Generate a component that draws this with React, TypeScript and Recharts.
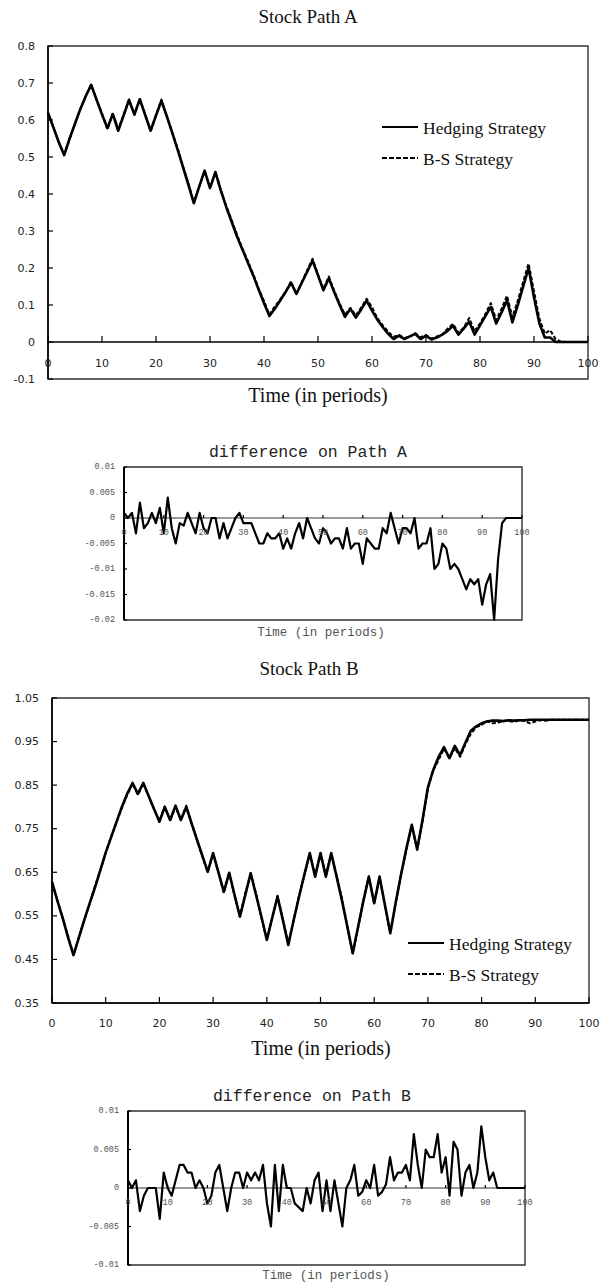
import React from "react";
import {
  LineChart,
  Line,
  XAxis,
  YAxis,
  ReferenceArea,
  ReferenceLine,
  Legend,
} from "recharts";

// ---- axis ticks ----
const periodTicks = [0, 10, 20, 30, 40, 50, 60, 70, 80, 90, 100];
const stockTicksA = [-0.1, 0, 0.1, 0.2, 0.3, 0.4, 0.5, 0.6, 0.7, 0.8];
const stockTicksB = [0.35, 0.45, 0.55, 0.65, 0.75, 0.85, 0.95, 1.05];
const diffTicksA = [-0.02, -0.015, -0.01, -0.005, 0, 0.005, 0.01];
const diffTicksB = [-0.01, -0.005, 0, 0.005, 0.01];

// ---- labels ----
const hedgingName = "Hedging Strategy";
const bsName = "B-S Strategy";
const titleA = "Stock Path A";
const titleB = "Stock Path B";
const diffTitleA = "difference on Path A";
const diffTitleB = "difference on Path B";
const timeLabel = "Time (in periods)";

// ---- Path A: option replication value per period (index = period) ----
const hedgingA = [
  0.62, 0.58, 0.54, 0.505, 0.55, 0.59, 0.63, 0.665, 0.695, 0.655,
  0.615, 0.578, 0.616, 0.571, 0.612, 0.654, 0.615, 0.656, 0.613, 0.571,
  0.612, 0.652, 0.61, 0.566, 0.52, 0.473, 0.425, 0.375, 0.42, 0.463,
  0.416, 0.459, 0.41, 0.365, 0.325, 0.285, 0.25, 0.215, 0.18, 0.142,
  0.105, 0.07, 0.09, 0.112, 0.135, 0.16, 0.13, 0.16, 0.19, 0.22,
  0.18, 0.14, 0.172, 0.135, 0.1, 0.068, 0.09, 0.066, 0.088, 0.112,
  0.085, 0.06, 0.04, 0.022, 0.008, 0.017, 0.008, 0.015, 0.022, 0.008,
  0.017, 0.007, 0.012, 0.02, 0.03, 0.044, 0.02, 0.037, 0.055, 0.02,
  0.045, 0.07, 0.095, 0.05, 0.08, 0.113, 0.053, 0.1, 0.15, 0.2,
  0.12, 0.05, 0.012, 0.012, 0, 0, 0, 0, 0, 0, 0,
];
const bsA = [
  0.619, 0.58, 0.539, 0.508, 0.547, 0.592, 0.631, 0.664, 0.696, 0.653,
  0.618, 0.574, 0.618, 0.576, 0.613, 0.6555, 0.614, 0.657, 0.616, 0.57,
  0.614, 0.655, 0.61, 0.566, 0.524, 0.474, 0.429, 0.377, 0.42, 0.462,
  0.417, 0.46, 0.411, 0.368, 0.33, 0.29, 0.253, 0.219, 0.184, 0.145,
  0.111, 0.074, 0.096, 0.115, 0.136, 0.164, 0.13, 0.162, 0.194, 0.225,
  0.182, 0.143, 0.177, 0.139, 0.104, 0.074, 0.092, 0.072, 0.093, 0.117,
  0.094, 0.064, 0.045, 0.028, 0.014, 0.019, 0.011, 0.014, 0.024, 0.013,
  0.019, 0.009, 0.015, 0.02, 0.036, 0.049, 0.025, 0.039, 0.065, 0.029,
  0.05, 0.076, 0.105, 0.059, 0.09, 0.125, 0.067, 0.112, 0.163, 0.212,
  0.137, 0.063, 0.023, 0.032, 0.008, 0.001, 0, 0, 0, 0, 0,
];
const diffA = [
  0.001, 0, 0.001, -0.003, 0.003, -0.002, -0.001, 0.001, -0.001, 0.002,
  -0.003, 0.004, -0.002, -0.005, -0.001, -0.0015, 0.001, -0.001, -0.003, 0.001,
  -0.002, -0.003, 0, 0, -0.004, -0.001, -0.004, -0.002, 0, 0.001,
  -0.001, -0.001, -0.001, -0.003, -0.005, -0.005, -0.003, -0.004, -0.004, -0.003,
  -0.006, -0.004, -0.006, -0.003, -0.001, -0.004, 0, -0.002, -0.004, -0.005,
  -0.002, -0.003, -0.005, -0.004, -0.004, -0.006, -0.002, -0.006, -0.005, -0.005,
  -0.009, -0.004, -0.005, -0.006, -0.006, -0.002, -0.003, 0.001, -0.002, -0.005,
  -0.002, -0.002, -0.003, 0, -0.006, -0.005, -0.005, -0.002, -0.01, -0.009,
  -0.005, -0.006, -0.01, -0.009, -0.01, -0.012, -0.014, -0.012, -0.013, -0.012,
  -0.017, -0.013, -0.011, -0.02, -0.008, -0.001, 0, 0, 0, 0, 0,
];

// ---- Path B ----
const hedgingB = [
  0.628, 0.585, 0.545, 0.5, 0.46, 0.5, 0.54, 0.578, 0.615, 0.655,
  0.695, 0.73, 0.765, 0.8, 0.83, 0.855, 0.83, 0.855, 0.825, 0.795,
  0.766, 0.8, 0.77, 0.803, 0.77, 0.8, 0.762, 0.725, 0.688, 0.651,
  0.694, 0.65, 0.605, 0.649, 0.598, 0.548, 0.598, 0.648, 0.598, 0.548,
  0.495, 0.545, 0.594, 0.54, 0.483, 0.54, 0.594, 0.645, 0.694, 0.64,
  0.694, 0.64, 0.694, 0.64, 0.585, 0.525, 0.464, 0.525, 0.585, 0.64,
  0.579, 0.64, 0.575, 0.51, 0.58, 0.645, 0.705, 0.759, 0.703, 0.77,
  0.845, 0.885, 0.915, 0.937, 0.912, 0.94, 0.919, 0.948, 0.975, 0.985,
  0.992, 0.996, 0.998, 0.998, 0.997, 0.999, 0.998, 0.999, 0.999, 1,
  1, 1, 1, 1, 1, 1, 1, 1, 1, 1, 1,
];
const bsB = [
  0.627, 0.585, 0.544, 0.503, 0.461, 0.5, 0.54, 0.578, 0.619, 0.653,
  0.695, 0.731, 0.764, 0.797, 0.827, 0.853, 0.828, 0.855, 0.824, 0.795,
  0.768, 0.801, 0.768, 0.8, 0.77, 0.803, 0.762, 0.723, 0.686, 0.651,
  0.692, 0.649, 0.603, 0.648, 0.595, 0.55, 0.603, 0.645, 0.601, 0.545,
  0.495, 0.545, 0.596, 0.5425, 0.486, 0.54, 0.596, 0.644, 0.692, 0.643,
  0.693, 0.643, 0.693, 0.642, 0.59, 0.525, 0.463, 0.522, 0.586, 0.6405,
  0.578, 0.64, 0.572, 0.511, 0.5805, 0.6445, 0.701, 0.758, 0.701, 0.768,
  0.842, 0.884, 0.908, 0.934, 0.912, 0.935, 0.915, 0.944, 0.968, 0.983,
  0.988, 0.997, 0.992, 0.993, 0.998, 0.997, 0.995, 0.999, 0.997, 0.992,
  0.996, 0.999, 0.998, 1, 1, 1, 1, 1, 1, 1, 1,
];
const diffB = [
  0.001, 0, 0.001, -0.003, -0.001, 0, 0, 0, -0.004, 0.002,
  0, -0.001, 0.001, 0.003, 0.003, 0.002, 0.002, 0, 0.001, 0,
  -0.002, -0.001, 0.002, 0.003, 0, -0.003, 0, 0.002, 0.002, 0,
  0.002, 0.001, 0.002, 0.001, 0.003, -0.002, -0.005, 0.003, -0.003, 0.003,
  0, 0, -0.002, -0.0025, -0.003, 0, -0.002, 0.001, 0.002, -0.003,
  0.001, -0.003, 0.001, -0.002, -0.005, 0, 0.001, 0.003, -0.001, -0.0005,
  0.001, 0, 0.003, -0.001, -0.0005, 0.0005, 0.004, 0.001, 0.002, 0.002,
  0.003, 0.001, 0.007, 0.003, 0, 0.005, 0.004, 0.004, 0.007, 0.002,
  0.004, -0.001, 0.006, 0.005, -0.001, 0.002, 0.003, 0, 0.002, 0.008,
  0.004, 0.001, 0.002, 0, 0, 0, 0, 0, 0, 0, 0,
];

// ---- styling ----
const SERIF = "'Liberation Serif', 'Times New Roman', serif";
const SANS = "'DejaVu Sans', Verdana, sans-serif";
const MONO = "'Liberation Mono', 'DejaVu Sans Mono', monospace";

type TextStyle = { font: string; size: number; fill: string };
const mainTickText: TextStyle = { font: SANS, size: 11, fill: "#222" };
const diffTickText: TextStyle = { font: MONO, size: 8.5, fill: "#555" };

type Margin = { top: number; right: number; bottom: number; left: number };

// x ticks drawn on the line y = baseline, marks pointing into the plot
function periodTick(
  plotH: number,
  domain: [number, number],
  baseline: number,
  len: number,
  gap: number,
  text: TextStyle
) {
  return (props: any) => {
    const { x, y, payload } = props;
    const axisY = y - (plotH * (baseline - domain[0])) / (domain[1] - domain[0]);
    return (
      <g>
        <line x1={x} y1={axisY} x2={x} y2={axisY - len} stroke="#000" strokeWidth={1.2} />
        <text
          x={x}
          y={axisY + gap}
          textAnchor="middle"
          dominantBaseline="central"
          fontFamily={text.font}
          fontSize={text.size}
          fill={text.fill}
        >
          {payload.value}
        </text>
      </g>
    );
  };
}

function valueTick(len: number, gap: number, text: TextStyle) {
  return (props: any) => {
    const { x, y, payload } = props;
    return (
      <g>
        <line x1={x} y1={y} x2={x + len} y2={y} stroke="#000" strokeWidth={1.2} />
        <text
          x={x - gap}
          y={y}
          textAnchor="end"
          dominantBaseline="central"
          fontFamily={text.font}
          fontSize={text.size}
          fill={text.fill}
        >
          {String(payload.value)}
        </text>
      </g>
    );
  };
}

function StrategyLegend() {
  return (
    <svg width={230} height={60}>
      <line x1={4} y1={15} x2={40} y2={15} stroke="#000" strokeWidth={2.2} />
      <text x={45} y={16} dominantBaseline="central" fontFamily={SERIF} fontSize={17.5} fill="#111">
        {hedgingName}
      </text>
      <line x1={4} y1={46} x2={40} y2={46} stroke="#000" strokeWidth={2.2} strokeDasharray="5 2" />
      <text x={45} y={47} dominantBaseline="central" fontFamily={SERIF} fontSize={17.5} fill="#111">
        {bsName}
      </text>
    </svg>
  );
}

type StockProps = {
  top: number;
  height: number;
  margin: Margin;
  hedging: number[];
  bs: number[];
  domain: [number, number];
  yTicks: number[];
  baseline: number;
  xGap: number;
  legendLeft: number;
  legendTop: number;
};

// axes take a 1px band; the plot box is margin + that band
function StockChart(p: StockProps) {
  const data = p.hedging.map((h, t) => ({ t, hedging: h, bs: p.bs[t] }));
  const plotH = p.height - p.margin.top - p.margin.bottom - 1;
  const zeroAxis = p.baseline > p.domain[0];
  return (
    <div style={{ position: "absolute", left: 0, top: p.top }}>
      <LineChart width={601} height={p.height} data={data} margin={p.margin}>
        <XAxis
          dataKey="t"
          type="number"
          domain={[0, 100]}
          ticks={periodTicks}
          interval={0}
          height={1}
          tickSize={0}
          tickMargin={0}
          tickLine={false}
          axisLine={zeroAxis ? false : { stroke: "#000", strokeWidth: 1.5 }}
          tick={periodTick(plotH, p.domain, p.baseline, 6, p.xGap, mainTickText)}
        />
        <YAxis
          type="number"
          domain={p.domain}
          ticks={p.yTicks}
          interval={0}
          width={1}
          tickSize={0}
          tickMargin={0}
          tickLine={false}
          axisLine={false}
          tick={valueTick(5, 13, mainTickText)}
        />
        <ReferenceArea
          x1={0}
          x2={100}
          y1={p.domain[0]}
          y2={p.domain[1]}
          fill="none"
          fillOpacity={0}
          stroke="#333"
          strokeWidth={1.4}
        />
        <ReferenceLine x={0} stroke="#000" strokeWidth={1.6} />
        {zeroAxis && <ReferenceLine y={p.baseline} stroke="#000" strokeWidth={1.5} />}
        <Line
          type="linear"
          dataKey="hedging"
          name={hedgingName}
          stroke="#000"
          strokeWidth={2.6}
          strokeLinejoin="round"
          dot={false}
          activeDot={false}
          isAnimationActive={false}
        />
        <Line
          type="linear"
          dataKey="bs"
          name={bsName}
          stroke="#000"
          strokeWidth={2}
          strokeDasharray="4 2"
          strokeLinejoin="round"
          dot={false}
          activeDot={false}
          isAnimationActive={false}
        />
        <Legend
          layout="vertical"
          align="center"
          verticalAlign="middle"
          wrapperStyle={{ left: p.legendLeft, top: p.legendTop, width: 230, height: 60 }}
          content={() => <StrategyLegend />}
        />
      </LineChart>
    </div>
  );
}

type DiffProps = {
  top: number;
  height: number;
  margin: Margin;
  diff: number[];
  domain: [number, number];
  yTicks: number[];
};

function DiffChart(p: DiffProps) {
  const data = p.diff.map((d, t) => ({ t, diff: d }));
  const plotH = p.height - p.margin.top - p.margin.bottom - 1;
  return (
    <div style={{ position: "absolute", left: 0, top: p.top }}>
      <LineChart width={601} height={p.height} data={data} margin={p.margin}>
        <XAxis
          dataKey="t"
          type="number"
          domain={[0, 100]}
          ticks={periodTicks}
          interval={0}
          height={1}
          tickSize={0}
          tickMargin={0}
          tickLine={false}
          axisLine={false}
          tick={periodTick(plotH, p.domain, 0, 3, 15, diffTickText)}
        />
        <YAxis
          type="number"
          domain={p.domain}
          ticks={p.yTicks}
          interval={0}
          width={1}
          tickSize={0}
          tickMargin={0}
          tickLine={false}
          axisLine={false}
          tick={valueTick(3, 9, diffTickText)}
        />
        <ReferenceArea
          x1={0}
          x2={100}
          y1={p.domain[0]}
          y2={p.domain[1]}
          fill="none"
          fillOpacity={0}
          stroke="#333"
          strokeWidth={1.4}
        />
        <ReferenceLine x={0} stroke="#000" strokeWidth={2} />
        <ReferenceLine y={0} stroke="#333" strokeWidth={1.2} />
        <Line
          type="linear"
          dataKey="diff"
          stroke="#000"
          strokeWidth={2.2}
          strokeLinejoin="round"
          dot={false}
          activeDot={false}
          isAnimationActive={false}
        />
      </LineChart>
    </div>
  );
}

function Caption(props: { x: number; y: number; text: string; font: string; size: number; fill?: string }) {
  return (
    <text
      x={props.x}
      y={props.y}
      textAnchor="middle"
      dominantBaseline="central"
      fontFamily={props.font}
      fontSize={props.size}
      fill={props.fill ?? "#111"}
    >
      {props.text}
    </text>
  );
}

export default function App() {
  return (
    <div style={{ position: "absolute", left: 0, top: 0, width: 601, height: 1288, background: "#fff" }}>
      <StockChart
        top={0}
        height={410}
        margin={{ top: 46, right: 13, bottom: 30, left: 47 }}
        hedging={hedgingA}
        bs={bsA}
        domain={[-0.1, 0.8]}
        yTicks={stockTicksA}
        baseline={0}
        xGap={21}
        legendLeft={378}
        legendTop={112}
      />
      <DiffChart
        top={420}
        height={230}
        margin={{ top: 47, right: 79, bottom: 29, left: 123 }}
        diff={diffA}
        domain={[-0.02, 0.01]}
        yTicks={diffTicksA}
      />
      <StockChart
        top={640}
        height={400}
        margin={{ top: 58, right: 12, bottom: 36, left: 51 }}
        hedging={hedgingB}
        bs={bsB}
        domain={[0.35, 1.05]}
        yTicks={stockTicksB}
        baseline={0.35}
        xGap={20}
        legendLeft={404}
        legendTop={288}
      />
      <DiffChart
        top={1040}
        height={248}
        margin={{ top: 71, right: 76, bottom: 22, left: 127 }}
        diff={diffB}
        domain={[-0.01, 0.01]}
        yTicks={diffTicksB}
      />
      <svg
        width={601}
        height={1288}
        style={{ position: "absolute", left: 0, top: 0, pointerEvents: "none" }}
      >
        <Caption x={308} y={16} text={titleA} font={SERIF} size={19} />
        <Caption x={318} y={395} text={timeLabel} font={SERIF} size={20} />
        <Caption x={308} y={452} text={diffTitleA} font={MONO} size={16.5} fill="#222" />
        <Caption x={321} y={633} text={timeLabel} font={MONO} size={12.5} fill="#555" />
        <Caption x={309} y={668} text={titleB} font={SERIF} size={19} />
        <Caption x={321} y={1048} text={timeLabel} font={SERIF} size={20} />
        <Caption x={312} y={1096} text={diffTitleB} font={MONO} size={16.5} fill="#222" />
        <Caption x={326} y={1276} text={timeLabel} font={MONO} size={12.5} fill="#555" />
      </svg>
    </div>
  );
}
